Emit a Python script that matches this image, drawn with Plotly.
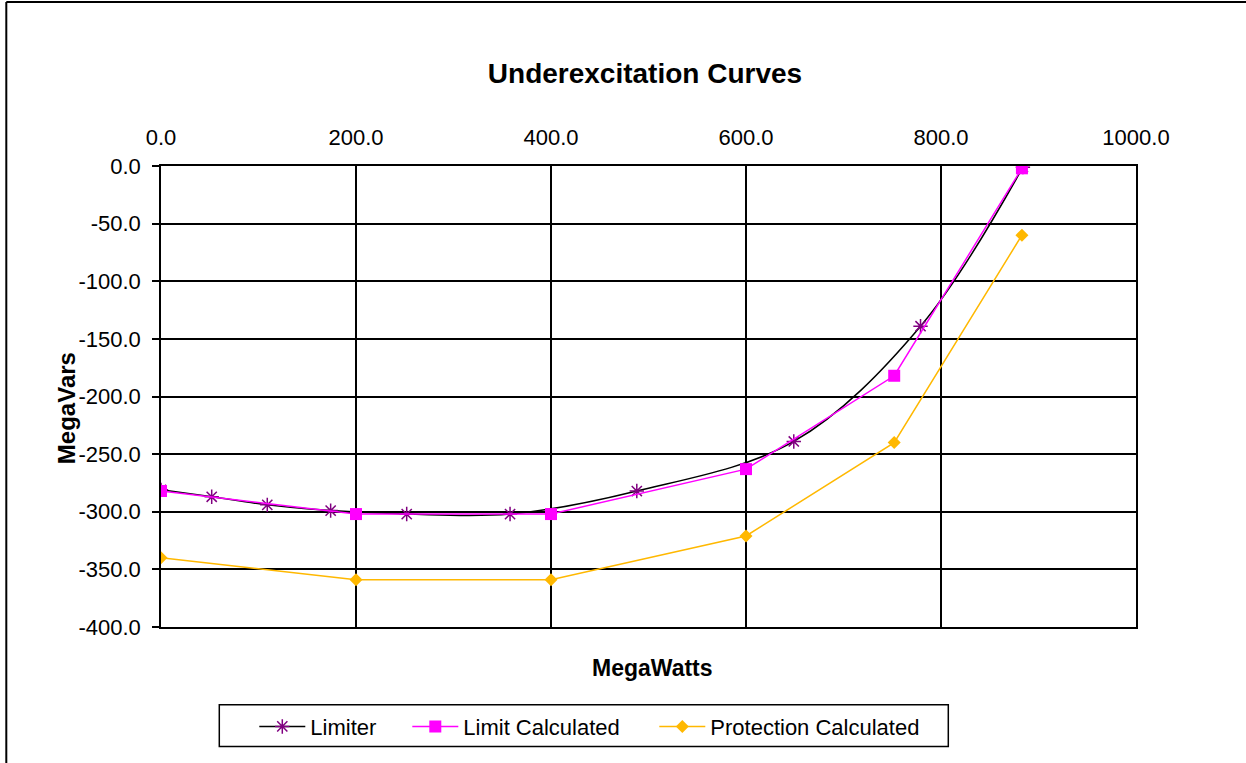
import plotly.graph_objects as go

# Generator underexcitation capability data (MW vs Mvar)
limiter_mw = [0, 52, 109, 174, 252, 358, 488, 649, 779, 884]
limiter_mvar = [-281, -287, -294, -299, -302, -302, -282, -239, -139, -1]

limit_calc_mw = [0, 200, 400, 600, 752, 883]
limit_calc_mvar = [-282, -302, -302, -263, -182, -2]

protection_mw = [0, 200, 400, 600, 752, 883]
protection_mvar = [-340, -359, -359, -321, -240, -60]

x_tick_vals = [0, 200, 400, 600, 800, 1000]
x_tick_text = ["0.0", "200.0", "400.0", "600.0", "800.0", "1000.0"]
y_tick_vals = [0, -50, -100, -150, -200, -250, -300, -350, -400]
y_tick_text = ["0.0", "-50.0", "-100.0", "-150.0", "-200.0", "-250.0",
               "-300.0", "-350.0", "-400.0"]

FONT = "Liberation Sans, Arial, sans-serif"

W, H = 1246, 763
L, R, T, B = 160.7, 1135.7, 166.0, 627.3
pw, ph = R - L, B - T


def px(xp):
    return (xp - L) / pw


def py(yp):
    return (B - yp) / ph


fig = go.Figure()

fig.add_trace(go.Scatter(
    x=limiter_mw, y=limiter_mvar, name="Limiter", legend="legend",
    mode="lines+markers",
    line=dict(color="black", width=1.5, shape="spline", smoothing=1),
    marker=dict(symbol="asterisk-open", size=12,
                line=dict(color="#800080", width=1.5), color="#800080"),
))
fig.add_trace(go.Scatter(
    x=limit_calc_mw, y=limit_calc_mvar, name="Limit Calculated", legend="legend2",
    mode="lines+markers",
    line=dict(color="#FF00FF", width=1.5),
    marker=dict(symbol="square", size=12, color="#FF00FF"),
))
fig.add_trace(go.Scatter(
    x=protection_mw, y=protection_mvar, name="Protection Calculated", legend="legend3",
    mode="lines+markers",
    line=dict(color="#FFB800", width=1.5),
    marker=dict(symbol="diamond", size=10, color="#FFB800"),
))

legend_style = dict(orientation="h", xanchor="left", yanchor="middle",
                    y=py(727), borderwidth=0, bgcolor="rgba(0,0,0,0)",
                    itemwidth=46,
                    font=dict(family=FONT, size=22, color="black"))

fig.update_layout(
    width=W, height=H,
    margin=dict(l=L, r=W - R, t=T, b=H - B, autoexpand=False),
    paper_bgcolor="white", plot_bgcolor="white",
    font=dict(family=FONT, size=22, color="black"),
    title=dict(text="<b>Underexcitation Curves</b>", x=645 / W, xref="container",
               xanchor="center", y=1 - 73 / H, yref="container", yanchor="middle",
               font=dict(family=FONT, size=28, color="black")),
    showlegend=True,
    legend=dict(legend_style, x=px(254)),
    legend2=dict(legend_style, x=px(407)),
    legend3=dict(legend_style, x=px(654)),
    xaxis=dict(range=[0, 1000], tickvals=x_tick_vals, ticktext=x_tick_text, side="top",
               showgrid=True, gridcolor="black", gridwidth=1.5,
               showline=True, linecolor="black", linewidth=1.5, mirror=True,
               zeroline=False, ticks="", ticklabelstandoff=10,
               tickfont=dict(size=22)),
    yaxis=dict(range=[-400, 0], tickvals=y_tick_vals, ticktext=y_tick_text,
               showgrid=True, gridcolor="black", gridwidth=1.5,
               showline=True, linecolor="black", linewidth=1.5, mirror=True,
               zeroline=False, ticks="outside", ticklen=7, tickcolor="black",
               tickwidth=1.5, ticklabelstandoff=7, tickfont=dict(size=22)),
    annotations=[
        dict(text="<b>MegaWatts</b>", x=px(652), y=py(668), xref="paper", yref="paper",
             showarrow=False, xanchor="center", yanchor="middle",
             font=dict(family=FONT, size=23, color="black")),
        dict(text="<b>MegaVars</b>", x=px(67), y=py(408), xref="paper", yref="paper",
             showarrow=False, textangle=-90, xanchor="center", yanchor="middle",
             font=dict(family=FONT, size=24, color="black")),
    ],
    shapes=[
        # chart frame (top and left edges)
        dict(type="line", xref="paper", yref="paper", x0=px(6), x1=px(1250),
             y0=py(2), y1=py(2), line=dict(color="black", width=2)),
        dict(type="line", xref="paper", yref="paper", x0=px(6), x1=px(6),
             y0=py(2), y1=py(770), line=dict(color="black", width=2)),
        # legend frame
        dict(type="rect", xref="paper", yref="paper", x0=px(219), x1=px(948),
             y0=py(705), y1=py(747), line=dict(color="black", width=1.5),
             fillcolor="rgba(0,0,0,0)", layer="below"),
    ],
)

fig.write_html("out.html")
